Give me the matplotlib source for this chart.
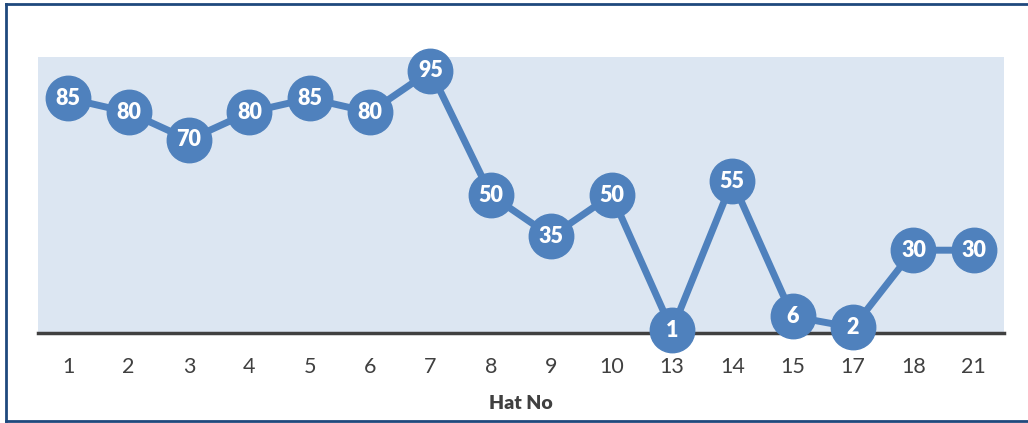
import matplotlib.pyplot as plt
from matplotlib.lines import Line2D

plt.rcParams['font.family'] = ['Lato', 'DejaVu Sans']

hats = ["1", "2", "3", "4", "5", "6", "7", "8", "9", "10", "13", "14", "15", "17", "18", "21"]
scores = [85, 80, 70, 80, 85, 80, 95, 50, 35, 50, 1, 55, 6, 2, 30, 30]

blue = "#4F81BD"
grey = "#404040"

fig = plt.figure(figsize=(10.28, 4.23), dpi=100)
ax = fig.add_axes([38 / 1028, 90 / 423, 966 / 1028, 276 / 423])
ax.set_facecolor("#DCE6F2")

x = list(range(len(hats)))
ax.plot(x, scores, color=blue, linewidth=5, marker="o", markersize=32,
        markerfacecolor=blue, markeredgecolor=blue, clip_on=False, zorder=4)
for xi, v in zip(x, scores):
    ax.text(xi, v, str(v), color="white", fontsize=15.5, fontweight="heavy",
            ha="center", va="center", zorder=5)

ax.set_xlim(-0.5, len(hats) - 0.5)
ax.set_ylim(0, 100)
ax.set_xticks(x)
ax.set_xticklabels(hats, fontsize=15.5, color=grey)
ax.set_yticks([])
ax.tick_params(axis="x", length=0, pad=17)
for s in ["top", "left", "right"]:
    ax.spines[s].set_visible(False)
ax.spines["bottom"].set_color(grey)
ax.spines["bottom"].set_linewidth(2.5)
ax.spines["bottom"].set_zorder(3)
ax.set_xlabel("Hat No", fontsize=14, fontweight="heavy", color=grey, labelpad=13)

# outer frame (open on the right)
frame = "#1F497D"
for xs, ys in [([6, 1040], [4, 4]), ([6, 6], [4, 421]), ([6, 1040], [421, 421])]:
    fig.add_artist(Line2D([v / 1028 for v in xs], [1 - v / 423 for v in ys],
                          color=frame, linewidth=2))

fig.savefig("out.png", dpi=100)
